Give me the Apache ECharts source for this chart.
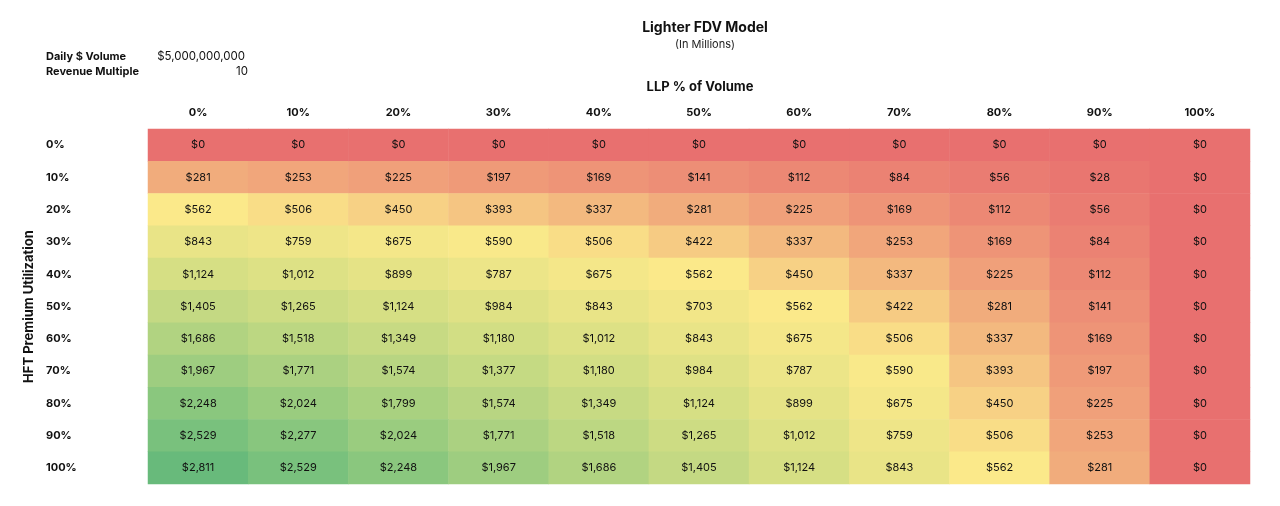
<!DOCTYPE html>
<html>
<head>
<meta charset="utf-8">
<script src="https://cdn.jsdelivr.net/npm/echarts@6/dist/echarts.min.js"></script>
<style>
  html, body { margin: 0; padding: 0; background: #fff; }
  #main { width: 1280px; height: 506px; }
</style>
</head>
<body>
<div id="main"></div>
<script>
// LLP % of volume (columns) and HFT premium utilization (rows)
var llpLabels = ['0%', '10%', '20%', '30%', '40%', '50%', '60%', '70%', '80%', '90%', '100%'];
var hftLabels = ['0%', '10%', '20%', '30%', '40%', '50%', '60%', '70%', '80%', '90%', '100%'];

// FDV in millions, one row per HFT level
var fdvRows = [
    [0, 0, 0, 0, 0, 0, 0, 0, 0, 0, 0],
    [281, 253, 225, 197, 169, 141, 112, 84, 56, 28, 0],
    [562, 506, 450, 393, 337, 281, 225, 169, 112, 56, 0],
    [843, 759, 675, 590, 506, 422, 337, 253, 169, 84, 0],
    [1124, 1012, 899, 787, 675, 562, 450, 337, 225, 112, 0],
    [1405, 1265, 1124, 984, 843, 703, 562, 422, 281, 141, 0],
    [1686, 1518, 1349, 1180, 1012, 843, 675, 506, 337, 169, 0],
    [1967, 1771, 1574, 1377, 1180, 984, 787, 590, 393, 197, 0],
    [2248, 2024, 1799, 1574, 1349, 1124, 899, 675, 450, 225, 0],
    [2529, 2277, 2024, 1771, 1518, 1265, 1012, 759, 506, 253, 0],
    [2811, 2529, 2248, 1967, 1686, 1405, 1124, 843, 562, 281, 0]
];

var data = [];
for (var r = 0; r < fdvRows.length; r++) {
    for (var c = 0; c < fdvRows[r].length; c++) {
        data.push([c, r, fdvRows[r][c]]);
    }
}

var font = 'Inter';
var myChart = echarts.init(document.getElementById('main'));

var option = {
    textStyle: { fontFamily: font },
    title: {
        text: 'Lighter FDV Model',
        subtext: '(In Millions)',
        left: 700, top: 16, textAlign: 'center',
        itemGap: 4,
        textStyle: { fontSize: 14, fontWeight: 'bold', color: '#111', fontFamily: font },
        subtextStyle: { fontSize: 11, color: '#222', fontFamily: font }
    },
    graphic: [
        { type: 'text', x: 46, y: 51, style: { text: 'Daily $ Volume', font: 'bold 11px Inter', fill: '#111' } },
        { type: 'text', x: 46, y: 66, style: { text: 'Revenue Multiple', font: 'bold 11px Inter', fill: '#111' } },
        { type: 'text', x: 245, y: 51, style: { text: '$5,000,000,000', font: '11.5px Inter', fill: '#111', align: 'right' } },
        { type: 'text', x: 248, y: 66, style: { text: '10', font: '11.5px Inter', fill: '#111', align: 'right' } },
        { type: 'text', x: 700, y: 81, style: { text: 'LLP % of Volume', font: 'bold 13px Inter', fill: '#111', align: 'center' } }
    ],
    grid: { left: 148, right: 30, top: 129, bottom: 22 },
    xAxis: {
        type: 'category', position: 'top', data: llpLabels,
        axisLine: { show: false }, axisTick: { show: false }, splitArea: { show: false },
        axisLabel: { fontSize: 11, fontWeight: 'bold', color: '#111', margin: 11 }
    },
    yAxis: {
        type: 'category', data: hftLabels, inverse: true,
        name: 'HFT Premium Utilization', nameLocation: 'middle', nameGap: 110, nameRotate: 90,
        nameTextStyle: { fontSize: 13, fontWeight: 'bold', color: '#111' },
        axisLine: { show: false }, axisTick: { show: false },
        axisLabel: { fontSize: 11, fontWeight: 'bold', color: '#111', align: 'left', margin: 102 }
    },
    visualMap: {
        show: false, min: 0, max: 2811, dimension: 2,
        inRange: { color: ['#e8706f', '#fbe98a', '#d6df84', '#b1d381', '#8ac77e', '#68ba7b'] }
    },
    series: [{
        type: 'heatmap',
        data: data,
        label: {
            show: true, fontSize: 11, color: '#111',
            formatter: function (p) { return '$' + p.value[2].toLocaleString('en-US'); }
        },
        itemStyle: { borderWidth: 0 }
    }]
};

myChart.setOption(option);
window.addEventListener('resize', function () { myChart.resize(); });
</script>
</body>
</html>
